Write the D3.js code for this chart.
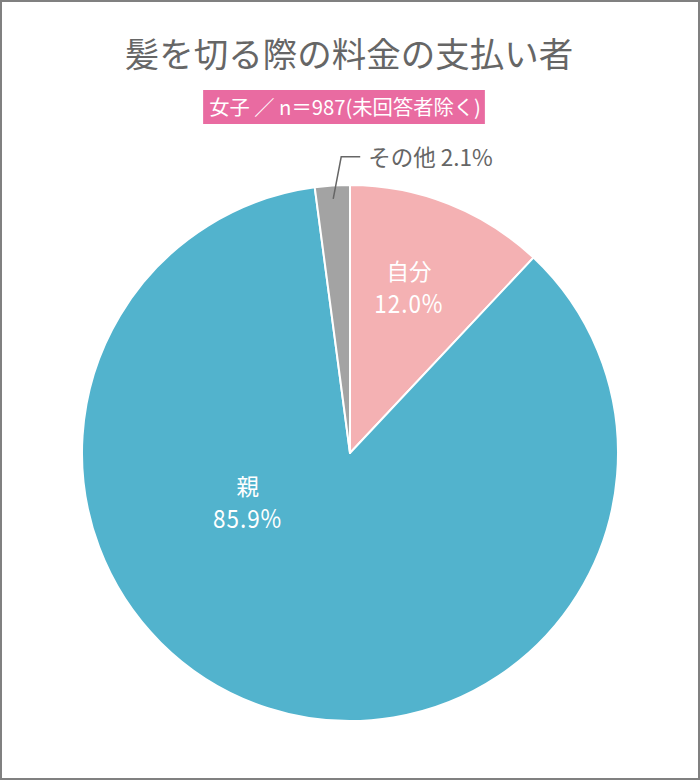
<!DOCTYPE html>
<html>
<head>
<meta charset="utf-8">
<script src="https://cdn.jsdelivr.net/npm/d3@7"></script>
<style>
  html, body { margin: 0; padding: 0; background: #fff; }
  svg { display: block; }
  text { font-family: "Noto Sans CJK JP", "Noto Sans", sans-serif; }
</style>
</head>
<body>
<svg id="chart" width="700" height="780"></svg>
<script>
// ---- data ----
const categories = ["自分", "親", "その他"];
const values = [12.0, 85.9, 2.1];
const valueLabels = ["12.0%", "85.9%", "2.1%"];
const titleText = "髪を切る際の料金の支払い者";
const subtitleText = "女子 ／ n＝987(未回答者除く)";

// ---- layout / style ----
const W = 700, H = 780;
const cx = 350, cy = 453, R = 268;
const colors = { "自分": "#f4b1b3", "親": "#52b3cd", "その他": "#a3a3a3" };
const insideLabel = {            // polar placement (angle in degrees from 12 o'clock, radius fraction)
  "自分": { a: 19.6, k: 0.655 },
  "親":   { a: 244,  k: 0.425 }
};

const svg = d3.select("#chart");

// border
svg.append("rect")
  .attr("x", 1).attr("y", 1).attr("width", W - 2).attr("height", H - 2)
  .attr("fill", "#fff").attr("stroke", "#808080").attr("stroke-width", 2);

// title
svg.append("text")
  .attr("x", 349).attr("y", 67)
  .attr("text-anchor", "middle")
  .attr("font-size", 34.5)
  .attr("fill", "#666")
  .text(titleText);

// subtitle badge
const badge = svg.append("g");
const bt = badge.append("text")
  .attr("x", 345).attr("y", 115)
  .attr("text-anchor", "middle")
  .attr("font-size", 20.3)
  .attr("fill", "#fff")
  .text(subtitleText);
const bb = bt.node().getBBox();
badge.insert("rect", "text")
  .attr("x", bb.x - 6).attr("y", 90)
  .attr("width", bb.width + 10).attr("height", 34)
  .attr("fill", "#e96ba1");

// pie
const data = categories.map((c, i) => ({ cat: c, value: values[i], label: valueLabels[i] }));
const pie = d3.pie().value(d => d.value).sort(null);
const arcs = pie(data);
const arc = d3.arc().innerRadius(0).outerRadius(R);

const g = svg.append("g").attr("transform", `translate(${cx},${cy})`);
g.selectAll("path.slice")
  .data(arcs)
  .join("path")
  .attr("class", "slice")
  .attr("d", arc)
  .attr("fill", d => colors[d.data.cat])
  .attr("stroke", "#fff")
  .attr("stroke-width", 2)
  .attr("stroke-linejoin", "round");

// inside labels
const polar = (deg, r) => {
  const t = deg * Math.PI / 180;
  return [r * Math.sin(t), -r * Math.cos(t)];
};
arcs.filter(d => insideLabel[d.data.cat]).forEach(d => {
  const L = insideLabel[d.data.cat];
  const [x, y] = polar(L.a, L.k * R);
  g.append("text")
    .attr("x", x).attr("y", y - 8)
    .attr("text-anchor", "middle")
    .attr("fill", "#fff")
    .attr("font-size", 22.5)
    .text(d.data.cat);
  g.append("text")
    .attr("x", x).attr("y", y + 25)
    .attr("text-anchor", "middle")
    .attr("fill", "#fff")
    .attr("font-size", 22.5)
    .attr("letter-spacing", 1)
    .attr("transform", `translate(0,${y + 25}) scale(1,1.12) translate(0,${-(y + 25)})`)
    .text(d.data.label);
});

// outside label with leader for その他
const other = arcs.find(d => d.data.cat === "その他");
const mid = (other.startAngle + other.endAngle) / 2;
const p0 = [0.95 * R * Math.sin(mid), -0.95 * R * Math.cos(mid)];
const p1 = [p0[0] + 8, -1.105 * R];
const p2 = [p1[0] + 19, p1[1]];
g.append("polyline")
  .attr("points", [p0, p1, p2].map(p => p.join(",")).join(" "))
  .attr("fill", "none")
  .attr("stroke", "#666")
  .attr("stroke-width", 1.5);
g.append("text")
  .attr("x", p2[0] + 8).attr("y", p2[1] + 9)
  .attr("font-size", 22.5)
  .attr("fill", "#666")
  .text(other.data.cat + " " + other.data.label);
</script>
</body>
</html>
